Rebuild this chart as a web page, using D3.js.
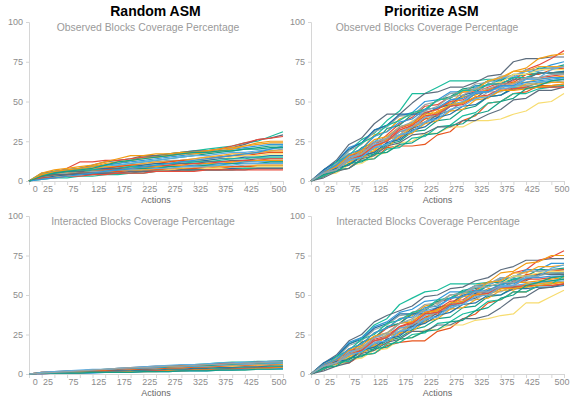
<!DOCTYPE html>
<html><head><meta charset="utf-8">
<script src="https://cdn.jsdelivr.net/npm/d3@7"></script>
<style>body{margin:0;background:#fff}svg{display:block}</style>
</head><body>
<svg id="c" width="571" height="403"></svg>
<script>
const actions = [0,25,50,75,100,125,150,175,200,225,250,275,300,325,350,375,400,425,450,475,500];
const xTickValues = [0,25,50,75,100,125,150,175,200,225,250,275,300,325,350,375,400,425,450,475,500];
const xLabelValues = [0,25,75,125,175,225,275,325,375,425,500];
const yTickValues = [0,25,50,75,100];
const columnTitles = ["Random ASM","Prioritize ASM"];
const rowTitles = ["Observed Blocks Coverage Percentage","Interacted Blocks Coverage Percentage"];
const palette = ["#1abc9c","#5d6d7e","#e74c3c","#f39c12","#3498db","#16a085","#5dade2","#95a5a6","#f5a623","#e8541c","#f7dc6f","#2471a3"];

const randomObserved = [
[0,4,6,7,8,9,10,11,13,15,16,17,18,19,20,21,22,24,25,28,31],
[0,5,6,7,8,10,12,13,14,16,16,17,18,19,19,20,21,23,26,27,29],
[0,3,5,8,12,12,13,13,14,15,15,16,17,18,19,20,22,24,26,27,28],
[0,5,7,8,9,10,12,14,16,16,17,17,18,18,19,20,21,22,23,24,24],
[0,4,6,7,8,9,10,11,12,13,14,15,16,17,18,19,20,21,22,23,23],
[0,3,5,6,7,8,9,10,11,12,13,14,15,16,17,18,19,20,21,22,22],
[0,4,5,6,7,8,9,10,11,12,13,14,15,16,16,17,18,18,19,20,21],
[0,3,4,5,6,7,8,9,10,11,12,13,13,14,15,15,16,17,18,19,20],
[0,4,5,6,7,8,9,9,10,11,12,12,13,14,15,16,17,17,18,19,19],
[0,3,4,5,6,7,8,9,10,10,11,12,13,13,14,15,16,16,17,18,18],
[0,2,4,5,6,7,7,8,9,10,10,11,12,13,13,14,15,16,16,17,17],
[0,3,5,6,6,7,8,8,9,10,11,11,12,12,13,14,14,15,15,16,16],
[0,4,5,5,6,7,7,8,9,9,10,11,11,12,12,13,14,14,15,15,15],
[0,3,4,5,6,6,7,8,8,9,9,10,11,11,12,12,13,13,14,14,14],
[0,2,3,4,5,6,7,7,8,8,9,10,10,11,11,12,12,13,13,14,14],
[0,3,4,5,5,6,6,7,8,8,9,9,10,10,11,11,12,12,13,13,13],
[0,2,3,4,5,5,6,7,7,8,8,9,9,10,10,11,11,12,12,12,12],
[0,3,4,4,5,6,6,7,7,8,8,9,9,9,10,10,11,11,11,12,12],
[0,2,3,4,4,5,6,6,7,7,8,8,9,9,9,10,10,11,11,11,11],
[0,3,4,5,5,6,6,6,7,7,7,8,8,8,9,9,9,10,10,10,10],
[0,2,3,4,4,5,5,6,6,7,7,7,8,8,8,9,9,9,10,10,10],
[0,3,4,4,5,5,5,6,6,6,7,7,7,8,8,8,9,9,9,9,9],
[0,2,3,3,4,4,5,5,6,6,6,7,7,7,8,8,8,8,9,9,9],
[0,2,3,4,4,4,5,5,5,6,6,6,7,7,7,7,8,8,8,8,8],
[0,1,2,2,3,3,4,4,5,5,6,6,6,7,7,7,7,8,8,8,8],
[0,3,4,4,5,5,5,5,6,6,6,6,7,7,7,7,7,7,8,8,8],
[0,2,2,3,3,4,4,5,5,5,6,6,6,6,7,7,7,7,7,7,7],
[0,4,6,7,8,9,11,12,13,14,15,16,17,17,18,19,20,22,24,25,25],
[0,1,2,3,4,5,6,7,8,9,10,11,12,13,14,15,16,17,18,20,22],
[0,3,5,6,7,8,10,12,13,14,15,16,17,18,18,19,19,20,20,21,21]
];

const randomInteracted = [
[0,0.5,1,1.5,2,2.5,3,3,3.5,4,4.5,5,5.5,6,6.5,7,7.5,7.5,8,8,8.5],
[0,1,1.5,2,2,2.5,3,3.5,4,4.5,5,5,5.5,6,6,6.5,7,7,7.5,8,8],
[0,0.5,1,1,1.5,2,2.5,3,3.5,4,4.5,4.5,5,5.5,6,6.5,7,7,7.5,7.5,8],
[0,1,1,1.5,2,2,2.5,3,3,3.5,4,4.5,5,5,5.5,6,6.5,7,7,7.5,7.5],
[0,0.5,1,1.5,1.5,2,2.5,2.5,3,3.5,4,4,4.5,5,5,5.5,6,6.5,7,7,7],
[0,0.5,1,1,1.5,1.5,2,2.5,3,3,3.5,4,4,4.5,5,5.5,6,6,6.5,6.5,7],
[0,1,1.5,1.5,2,2,2.5,2.5,3,3,3.5,3.5,4,4.5,4.5,5,5.5,6,6,6.5,6.5],
[0,0.5,0.5,1,1,1.5,2,2,2.5,3,3,3.5,4,4,4.5,5,5,5.5,6,6,6],
[0,0.5,1,1,1.5,1.5,2,2,2.5,2.5,3,3.5,3.5,4,4,4.5,5,5,5.5,5.5,6],
[0,1,1,1.5,1.5,2,2,2.5,2.5,3,3,3.5,3.5,4,4,4.5,4.5,5,5,5.5,5.5],
[0,0.5,0.5,1,1,1,1.5,1.5,2,2,2.5,3,3,3.5,3.5,4,4.5,4.5,5,5,5.5],
[0,0.5,1,1,1,1.5,1.5,2,2,2.5,2.5,3,3,3.5,3.5,4,4,4.5,4.5,5,5],
[0,0.5,0.5,0.5,1,1,1,1.5,1.5,2,2,2.5,2.5,3,3,3.5,3.5,4,4,4.5,5],
[0,0.5,0.5,1,1,1,1.5,1.5,1.5,2,2,2.5,2.5,3,3,3,3.5,3.5,4,4,4.5],
[0,0,0.5,0.5,0.5,1,1,1,1.5,1.5,2,2,2,2.5,2.5,3,3,3.5,3.5,4,4],
[0,0.5,0.5,0.5,1,1,1,1,1.5,1.5,1.5,2,2,2.5,2.5,2.5,3,3,3.5,3.5,4],
[0,0,0.5,0.5,0.5,0.5,1,1,1,1.5,1.5,1.5,2,2,2,2.5,2.5,3,3,3,3.5],
[0,0.5,0.5,0.5,0.5,1,1,1,1,1.5,1.5,1.5,2,2,2,2.5,2.5,2.5,3,3,3],
[0,1,1.5,2,2.5,3,3,3.5,4,4.5,5,5.5,6,6,6.5,7,7,7.5,7.5,8,8],
[0,0.5,1,1.5,2,2.5,3,3.5,4,4,4.5,5,5,5.5,6,6,6.5,6.5,7,7.5,7.5]
];

const prioritizeObserved = [
[0,6,10,19,26,30,38,44,55,55,59,63,63,63,64,64,65,67,68,68,69],
[0,7,13,23,27,36,42,42,49,55,56,59,59,62,66,67,75,77,77,78,78],
[0,3,11,13,20,22,29,36,40,47,48,53,56,56,59,62,63,70,73,77,82],
[0,5,10,17,20,29,31,39,42,45,51,52,57,58,63,64,69,71,77,79,80],
[0,7,12,21,24,32,35,41,43,50,51,56,56,60,60,64,65,70,70,73,75],
[0,4,11,14,21,24,33,35,42,44,51,53,58,59,63,63,67,67,71,71,73],
[0,5,8,15,18,25,27,34,36,43,45,51,53,59,60,65,65,69,69,71,72],
[0,6,11,19,23,31,34,41,41,48,50,55,56,61,62,66,66,70,70,71,72],
[0,3,9,11,17,19,26,29,36,39,46,49,56,57,63,65,69,69,72,72,72],
[0,5,8,14,16,22,25,31,33,39,41,47,49,55,56,61,62,67,67,70,71],
[0,4,10,12,19,21,28,31,38,40,46,47,53,55,61,62,67,67,70,70,70],
[0,7,12,20,24,32,35,42,42,42,46,48,54,56,61,61,65,65,68,68,69],
[0,4,12,16,24,28,35,38,43,45,51,52,57,57,61,61,65,65,68,68,68],
[0,3,8,10,16,18,24,27,33,36,42,44,50,52,58,59,64,64,68,68,68],
[0,6,9,16,18,24,26,33,36,43,45,50,51,56,57,61,61,65,65,66,67],
[0,4,10,12,18,20,26,28,34,37,44,47,53,54,58,58,62,62,64,65,66],
[0,5,7,13,15,21,23,29,31,37,40,47,49,55,56,60,60,62,63,64,65],
[0,3,8,10,15,17,23,25,31,32,38,39,45,47,53,54,59,59,62,63,64],
[0,5,8,15,17,23,25,31,34,40,42,48,50,56,56,59,60,61,62,63,64],
[0,4,11,13,19,21,27,29,35,37,43,44,50,51,56,56,60,60,61,62,63],
[0,5,7,13,14,19,21,28,30,36,38,44,45,51,52,57,57,61,61,62,62],
[0,3,7,8,13,14,21,22,22,23,29,31,38,41,49,50,55,56,60,60,61],
[0,4,5,10,11,16,18,24,25,30,30,34,34,38,38,39,42,44,49,50,55],
[0,4,8,10,16,18,24,26,32,34,40,42,47,48,53,54,58,58,59,59,60],
[0,3,7,8,13,14,20,21,27,28,34,35,41,43,49,50,55,55,58,59,60],
[0,2,6,8,14,16,22,24,29,30,34,34,38,38,42,45,51,52,57,57,59],
[0,5,7,14,16,22,25,32,35,41,42,47,48,53,54,58,58,59,59,59,59],
[0,6,9,16,19,26,28,34,36,42,43,48,49,53,53,57,57,58,59,60,61],
[0,6,10,17,20,28,31,37,39,45,46,51,52,56,56,60,60,64,64,65,65],
[0,4,6,11,12,17,18,23,24,29,30,35,36,42,44,50,52,58,60,63,64],
[0,5,7,13,15,21,23,29,31,37,39,45,47,52,53,58,59,64,65,70,72],
[0,5,7,14,17,24,27,34,37,44,47,53,54,58,58,61,61,65,65,67,67]
];

const prioritizeInteracted = [
[0,6,10,19,23,31,35,44,48,52,53,57,57,57,58,58,60,62,63,64,64],
[0,7,12,21,25,33,37,40,43,49,50,54,55,59,61,66,68,72,72,73,73],
[0,3,10,13,20,23,29,32,39,41,46,47,52,53,58,59,64,66,72,74,78],
[0,6,9,16,19,26,29,35,37,43,45,50,51,56,58,64,65,70,71,75,75],
[0,7,11,20,23,30,33,39,41,46,47,52,52,56,56,60,61,66,66,70,70],
[0,4,10,13,20,23,30,32,38,40,46,48,53,54,58,58,62,62,66,66,67],
[0,5,7,14,17,23,25,32,34,40,42,48,49,55,56,61,61,65,65,66,66],
[0,6,10,18,21,28,31,37,38,44,45,50,51,56,57,61,61,65,65,66,66],
[0,3,8,10,16,18,24,26,33,35,42,44,51,52,58,59,64,64,68,68,69],
[0,5,7,13,15,21,23,29,30,36,38,43,45,51,52,57,58,63,63,65,66],
[0,4,9,11,17,19,26,28,35,37,42,43,49,51,56,57,62,62,64,65,65],
[0,7,11,19,22,29,32,38,38,38,42,44,50,51,56,56,60,60,63,63,64],
[0,4,11,15,22,25,32,34,39,41,47,48,52,52,56,56,60,60,63,63,63],
[0,3,8,9,15,17,22,25,31,33,39,41,46,48,53,54,59,59,63,63,63],
[0,6,8,15,16,22,24,30,33,39,41,46,47,52,52,56,56,60,60,61,62],
[0,4,9,11,17,18,24,26,32,34,41,43,49,50,54,54,58,58,59,60,61],
[0,5,6,12,14,19,21,27,28,34,37,43,45,50,51,55,55,57,58,59,60],
[0,3,7,9,14,16,21,23,28,30,35,36,42,43,49,50,55,55,58,59,60],
[0,5,7,14,16,21,23,29,31,37,39,44,46,52,52,56,56,57,58,58,59],
[0,4,10,12,18,19,25,27,32,34,40,41,46,47,52,52,56,56,57,58,58],
[0,5,6,12,13,18,19,26,27,33,35,41,42,47,48,53,53,57,57,58,58],
[0,3,7,7,12,13,18,20,21,21,27,29,35,38,45,47,52,52,56,56,57],
[0,4,5,9,10,15,16,22,23,28,28,31,31,34,35,37,38,45,45,49,53],
[0,4,8,9,15,17,22,24,30,32,37,39,44,45,50,50,54,54,55,55,56],
[0,3,7,8,12,13,19,20,25,26,32,33,38,40,46,47,52,52,56,57,62],
[0,2,5,7,13,15,20,22,27,27,31,31,35,35,37,42,48,49,54,55,57],
[0,5,7,13,15,21,23,30,32,38,39,44,45,50,51,55,55,56,56,56,57],
[0,6,9,15,18,24,26,32,33,39,40,45,46,50,50,54,54,55,56,57,58],
[0,6,9,16,19,26,29,35,36,42,43,48,49,53,53,57,57,61,61,62,62],
[0,4,5,10,11,16,17,22,23,27,28,33,34,40,42,48,50,56,58,61,62],
[0,5,7,12,14,20,21,27,29,35,36,42,44,49,50,55,56,61,62,67,69],
[0,5,7,13,16,23,26,32,35,41,44,50,51,55,55,58,58,62,62,64,64]
];

const svg = d3.select("#c");
const font = "'Liberation Sans', Arial, sans-serif";

const panels = [
  {data: randomObserved, col: 0, row: 0, x0: 29, x1: 283, y0: 181, y1: 22, subX: 148, lastShift: -4},
  {data: prioritizeObserved, col: 1, row: 0, x0: 311, x1: 564, y0: 181, y1: 22, subX: 427, lastShift: -2},
  {data: randomInteracted, col: 0, row: 1, x0: 29, x1: 283, y0: 374, y1: 216, subX: 143, lastShift: -4},
  {data: prioritizeInteracted, col: 1, row: 1, x0: 311, x1: 564, y0: 374, y1: 216, subX: 428, lastShift: -2}
];

const axisColor = "#d6d6d6";
const labelColor = "#8c8c8c";

panels.forEach(p => {
  const x = d3.scaleLinear().domain([0, 500]).range([p.x0, p.x1]);
  const y = d3.scaleLinear().domain([0, 100]).range([p.y0, p.y1]);
  const g = svg.append("g");

  if (p.row === 0) {
    g.append("text").attr("x", (p.col === 0 ? 155.5 : 431.5)).attr("y", 16)
      .attr("text-anchor", "middle").attr("font-family", font).attr("font-weight", "bold")
      .attr("font-size", 14).attr("fill", "#000").text(columnTitles[p.col]);
  }
  g.append("text").attr("x", p.subX).attr("y", p.y1 + 9)
    .attr("text-anchor", "middle").attr("font-family", font)
    .attr("font-size", 10.4).attr("fill", "#9a9a9a").text(rowTitles[p.row]);

  const ya = g.append("g").attr("transform", `translate(${p.x0},0)`)
    .call(d3.axisLeft(y).tickValues(yTickValues).tickSize(3).tickPadding(3));
  ya.select(".domain").attr("stroke", axisColor);
  ya.selectAll(".tick line").attr("stroke", axisColor);
  ya.selectAll(".tick text").attr("font-family", font).attr("font-size", 9).attr("fill", labelColor);

  const xa = g.append("g").attr("transform", `translate(0,${p.y0})`)
    .call(d3.axisBottom(x).tickValues(xTickValues).tickSize(4).tickFormat(""));
  xa.select(".domain").attr("stroke", axisColor).attr("d", `M${p.x0},0.5H${p.x1}`);
  xa.selectAll(".tick line").attr("stroke", axisColor);

  g.selectAll(".xlab").data(xLabelValues).enter().append("text")
    .attr("x", d => d === 500 ? x(500) + p.lastShift : x(d + 12.5))
    .attr("y", p.y0 + 11)
    .attr("text-anchor", "middle").attr("font-family", font).attr("font-size", 9)
    .attr("fill", labelColor).text(d => d);

  g.append("text").attr("x", (p.x0 + p.x1) / 2).attr("y", p.y0 + 22)
    .attr("text-anchor", "middle").attr("font-family", font).attr("font-size", 9)
    .attr("fill", "#666").text("Actions");

  const line = d3.line().x((d, i) => x(actions[i])).y(d => y(d));
  g.selectAll(".series").data(p.data).enter().append("path")
    .attr("d", d => line(d))
    .attr("fill", "none")
    .attr("stroke", (d, i) => palette[i % palette.length])
    .attr("stroke-width", 1.2)
    .attr("stroke-linejoin", "round");
});
</script>
</body></html>
